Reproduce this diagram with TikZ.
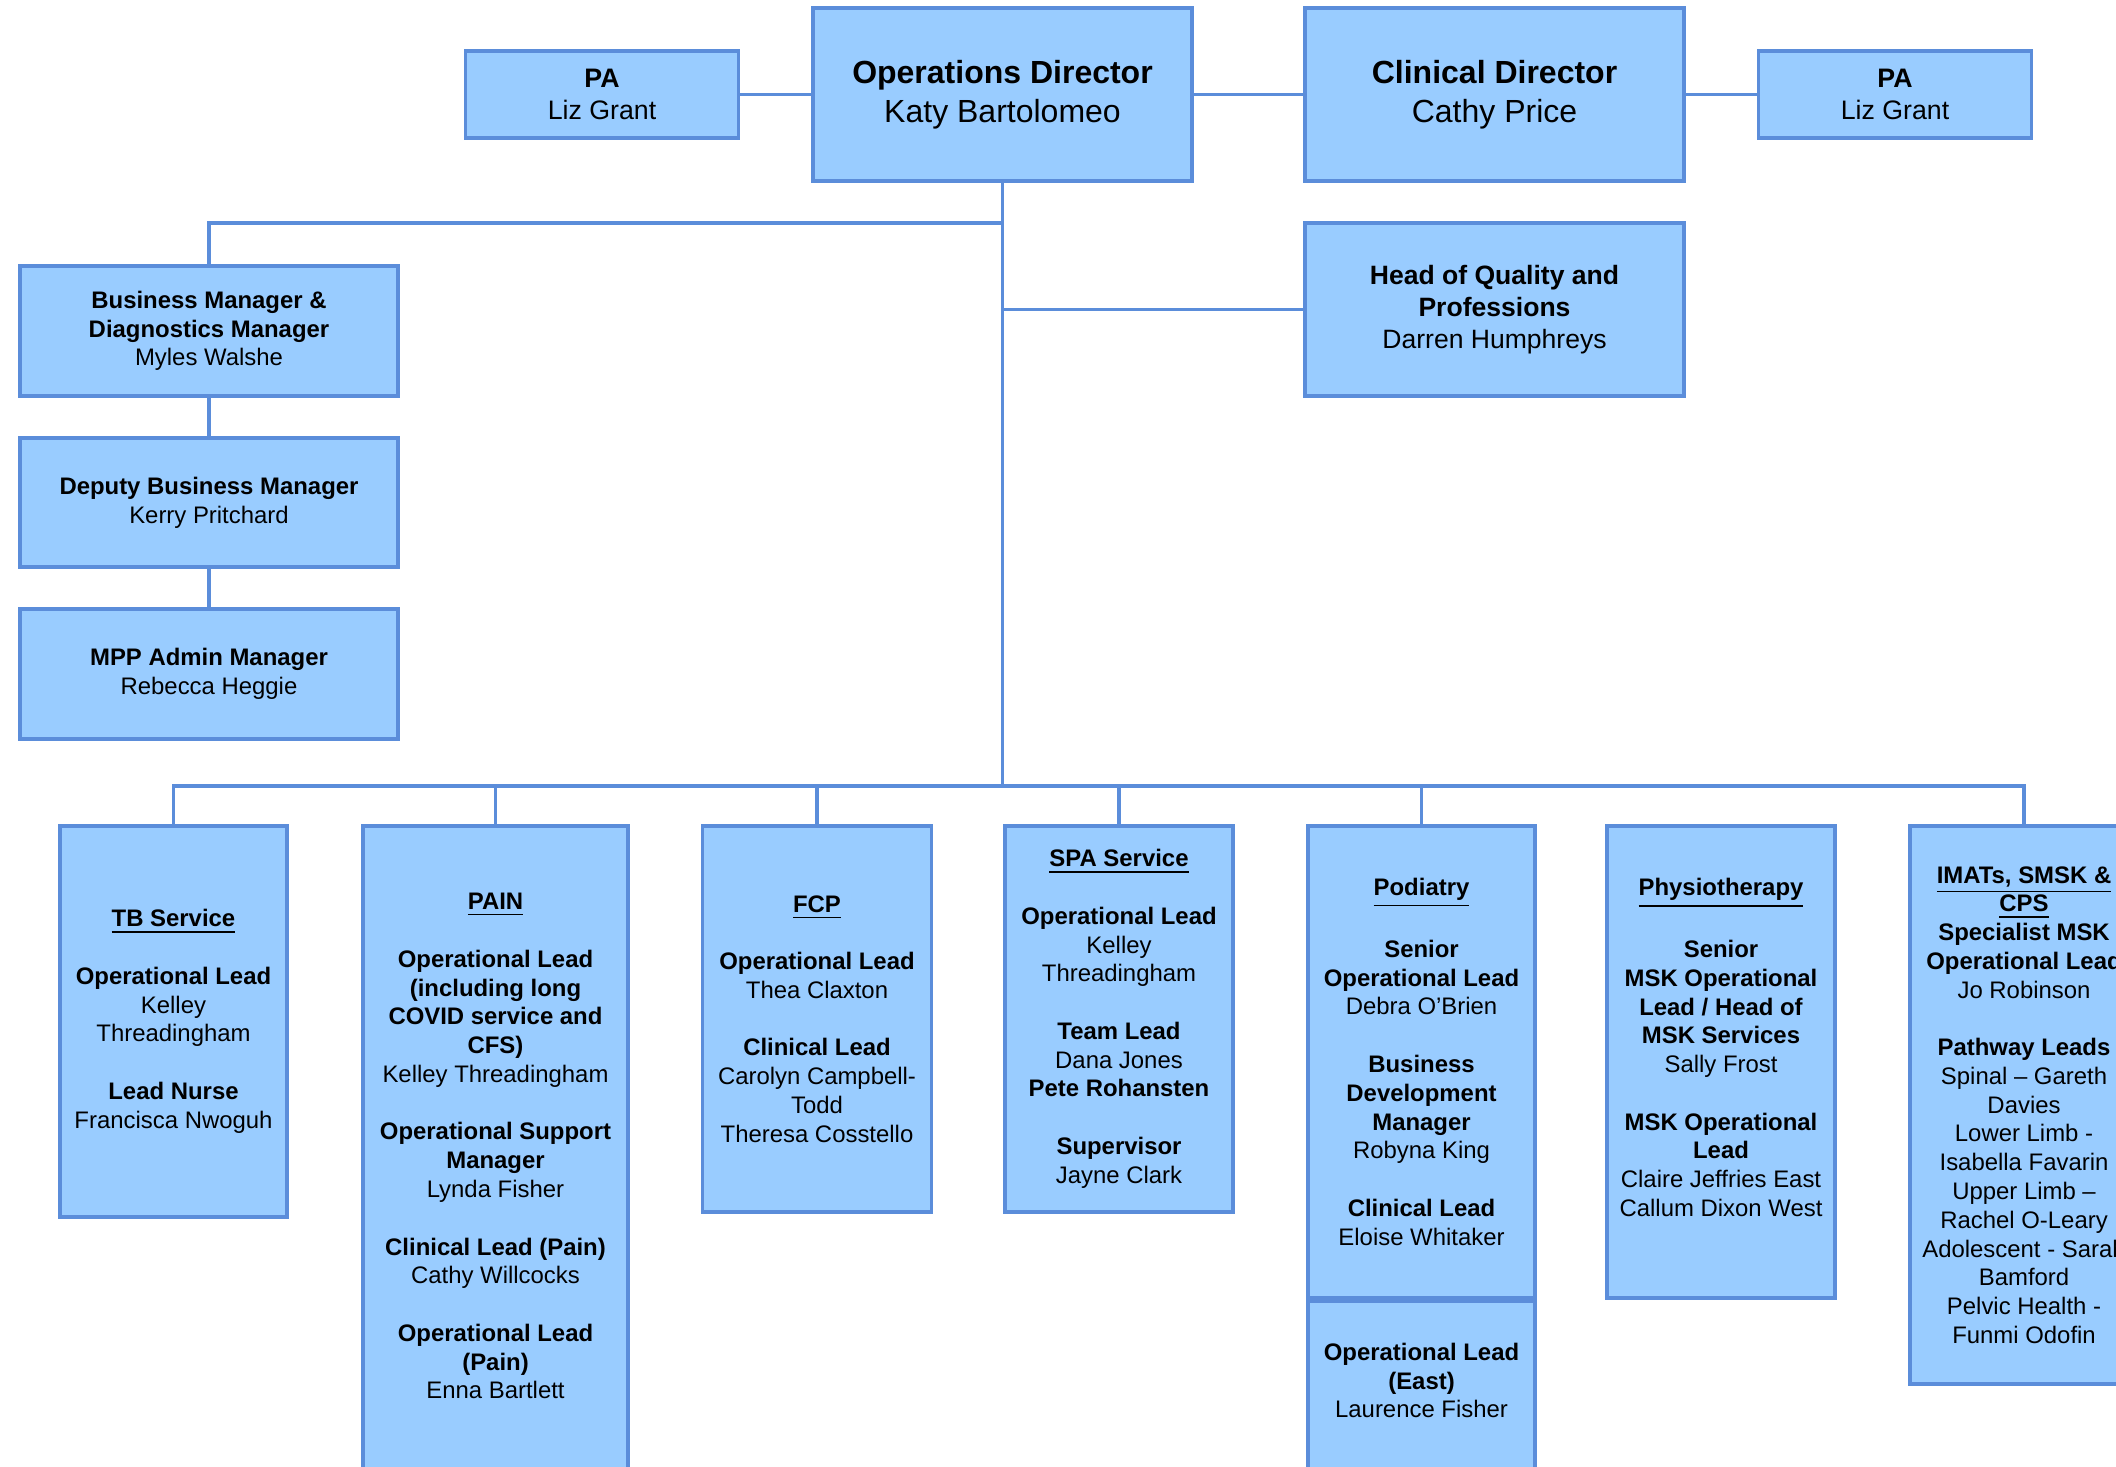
\documentclass[tikz,border=0pt]{standalone}
\usepackage{fontspec}
\setmainfont{Liberation Sans}
\usepackage{xcolor}
\usepackage{tikz}
\usetikzlibrary{positioning}

\definecolor{boxfill}{HTML}{99CCFF}
\definecolor{boxline}{RGB}{91,141,218}

\newcommand{\hd}[1]{\textbf{\underline{#1}}}
\newcommand{\blankrow}{\\[8.18pt]}

\tikzset{
  orgbox/.style={draw=boxline, fill=boxfill, line width=1pt, align=center, inner sep=0pt,
    font=\fontsize{6.8pt}{8.18pt}\selectfont},
  dirbox/.style={orgbox, minimum width=3.79cm, minimum height=1.73cm,
    font=\fontsize{9.1pt}{11.1pt}\selectfont},
  pabox/.style={orgbox, minimum width=2.73cm, minimum height=0.87cm,
    font=\fontsize{7.6pt}{9.2pt}\selectfont},
  svcbox/.style={orgbox, anchor=north, minimum width=2.28cm},
  link/.style={draw=boxline, line width=1pt},
}

\begin{document}
\begin{tikzpicture}[x=0.01cm, y=-0.01cm]

\useasboundingbox (0,0) rectangle (2116,1466);
\clip (0,0) rectangle (2116,1466);

% Directors and their PAs
\node[dirbox] (ops) at (1002.5,94.5) {\textbf{Operations Director}\\Katy Bartolomeo};
\node[dirbox] (clin) at (1494.5,94.5) {\textbf{Clinical Director}\\Cathy Price};
\node[pabox] (paL) at (602,94.5) {\textbf{PA}\\Liz Grant};
\node[pabox] (paR) at (1895,94.5) {\textbf{PA}\\Liz Grant};

% Quality lead
\node[dirbox, font=\fontsize{7.55pt}{9.2pt}\selectfont] (hoq) at (1494.5,309.5)
  {\textbf{Head of Quality and}\\\textbf{Professions}\\Darren Humphreys};

% Business side
\node[orgbox, minimum width=3.78cm, minimum height=1.3cm] (bm) at (209,331)
  {\textbf{Business Manager \&}\\\textbf{Diagnostics Manager}\\Myles Walshe};
\node[orgbox, minimum width=3.78cm, minimum height=1.29cm] (dbm) at (209,502.5)
  {\textbf{Deputy Business Manager}\\Kerry Pritchard};
\node[orgbox, minimum width=3.78cm, minimum height=1.3cm] (mpp) at (209,674)
  {\textbf{MPP Admin Manager}\\Rebecca Heggie};

% Services
\node[svcbox, minimum width=2.27cm, minimum height=3.91cm] (tb) at (173.5,824)
  {\hd{TB Service}\blankrow
   \textbf{Operational Lead}\\Kelley\\Threadingham\blankrow
   \textbf{Lead Nurse}\\Francisca Nwoguh};

\node[svcbox, minimum width=2.65cm, minimum height=6.48cm] (pain) at (495.5,824)
  {\hd{PAIN}\blankrow
   \textbf{Operational Lead}\\\textbf{(including long}\\\textbf{COVID service and}\\\textbf{CFS)}\\Kelley Threadingham\blankrow
   \textbf{Operational Support}\\\textbf{Manager}\\Lynda Fisher\blankrow
   \textbf{Clinical Lead (Pain)}\\Cathy Willcocks\blankrow
   \textbf{Operational Lead}\\\textbf{(Pain)}\\Enna Bartlett\\[-6pt]\mbox{}};

\node[svcbox, minimum width=2.29cm, minimum height=3.86cm] (fcp) at (817,824)
  {\hd{FCP}\blankrow
   \textbf{Operational Lead}\\Thea Claxton\blankrow
   \textbf{Clinical Lead}\\Carolyn Campbell-\\Todd\\Theresa Cosstello};

\node[svcbox, minimum height=3.86cm] (spa) at (1119,824)
  {\hd{SPA Service}\blankrow
   \textbf{Operational Lead}\\Kelley\\Threadingham\blankrow
   \textbf{Team Lead}\\Dana Jones\\\textbf{Pete Rohansten}\blankrow
   \textbf{Supervisor}\\Jayne Clark};

\node[svcbox, minimum width=2.27cm, minimum height=4.72cm] (pod) at (1421.5,824)
  {\hd{Podiatry}\blankrow
   \textbf{Senior}\\\textbf{Operational Lead}\\Debra O’Brien\blankrow
   \textbf{Business}\\\textbf{Development}\\\textbf{Manager}\\Robyna King\blankrow
   \textbf{Clinical Lead}\\Eloise Whitaker};
\node[svcbox, minimum width=2.27cm, minimum height=1.76cm, below=0pt of pod] (podE)
  {\textbf{Operational Lead}\\\textbf{(East)}\\Laurence Fisher\\[-3pt]\mbox{}};

\node[svcbox, minimum height=4.72cm] (physio) at (1721,824)
  {\hd{Physiotherapy}\blankrow
   \textbf{Senior}\\\textbf{MSK Operational}\\\textbf{Lead / Head of}\\\textbf{MSK Services}\\Sally Frost\blankrow
   \textbf{MSK Operational}\\\textbf{Lead}\\Claire Jeffries East\\Callum Dixon West\\\mbox{}};

\node[svcbox, minimum height=5.58cm] (imats) at (2024,824)
  {\hd{IMATs, SMSK \&}\\\hd{CPS}\\
   \textbf{Specialist MSK}\\\textbf{Operational Lead}\\Jo Robinson\blankrow
   \textbf{Pathway Leads}\\Spinal – Gareth\\Davies\\Lower Limb -\\Isabella Favarin\\
   Upper Limb –\\Rachel O-Leary\\Adolescent - Sarah\\Bamford\\Pelvic Health -\\Funmi Odofin};

% Connectors
\coordinate (split) at (1002.5,223);
\coordinate (bus) at (1002.5,786);

\draw[link] (paL) -- (ops);
\draw[link] (ops) -- (clin);
\draw[link] (clin) -- (paR);
\draw[link] (ops.south) -- (bus);
\draw[link] (split) -| (bm.north);
\draw[link] (hoq.west) -- (hoq.west -| ops.south);
\draw[link] (bm) -- (dbm);
\draw[link] (dbm) -- (mpp);

\draw[link] (tb.north) |- (bus) -| (imats.north);
\foreach \s in {pain,fcp,spa,pod}
  \draw[link] (\s.north) -- (\s.north |- bus);

\end{tikzpicture}
\end{document}
